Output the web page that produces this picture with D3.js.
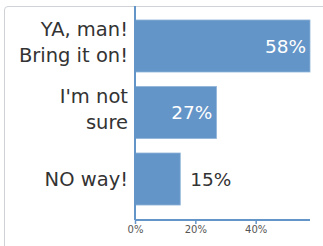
<!DOCTYPE html>
<html>
<head>
<meta charset="utf-8">
<script src="https://d3js.org/d3.v7.min.js"></script>
<style>
  body { margin: 0; background: #fff; }
  .frame { position: absolute; left: 4px; top: 6px; width: 330px; height: 260px;
           border: 1px solid #cfd3d8; border-radius: 4px; }
</style>
</head>
<body>
<div class="frame"></div>
<div id="chart" style="position:absolute;left:0;top:0"></div>
<script>
var w = 323, h = 246;

var categories = [["YA, man!", "Bring it on!"], ["I'm not", "sure"], ["NO way!"]],
    values = [58, 27, 15],
    tickValues = [0, 20, 40],
    barColor = "#6495c8",
    fontFamily = "'DejaVu Sans', sans-serif";

var margin = {top: 14, right: 13, bottom: 26, left: 135},
    width = w - margin.left - margin.right,
    height = h - margin.top - margin.bottom;

var svg = d3.select("#chart").append("svg")
    .attr("width", w)
    .attr("height", h);

var g = svg.append("g")
    .attr("transform", "translate(" + margin.left + "," + margin.top + ")");

var x = d3.scaleLinear().domain([0, 58]).range([0, width]);
var y = d3.scaleBand().domain(d3.range(values.length)).range([0, height - 9])
    .paddingInner(0.218).paddingOuter(0.09);

// bars
g.selectAll(".bar")
  .data(values)
  .enter().append("rect")
    .attr("class", "bar")
    .attr("x", 0)
    .attr("y", function(d, i) { return y(i); })
    .attr("width", function(d) { return x(d); })
    .attr("height", y.bandwidth())
    .attr("fill", barColor)
    .attr("stroke", "#8fb3d9")
    .attr("stroke-width", 0.8);

// value labels: inside the bar when there is room, else just after it
g.selectAll(".val")
  .data(values)
  .enter().append("text")
    .attr("class", "val")
    .attr("x", function(d) { return d > 20 ? x(d) - 4 : x(d) + 10; })
    .attr("y", function(d, i) { return y(i) + y.bandwidth() / 2; })
    .attr("dy", "0.36em")
    .attr("text-anchor", function(d) { return d > 20 ? "end" : "start"; })
    .attr("fill", function(d) { return d > 20 ? "#fff" : "#333"; })
    .style("font-family", fontFamily)
    .style("font-size", "18.5px")
    .text(function(d) { return d + "%"; });

// category labels (one or two lines)
var lab = g.selectAll(".cat")
  .data(categories)
  .enter().append("text")
    .attr("class", "cat")
    .attr("text-anchor", "end")
    .attr("fill", "#333")
    .style("font-family", fontFamily)
    .style("font-size", "19.5px")
    .attr("transform", function(d, i) {
      return "translate(-7," + (y(i) + y.bandwidth() / 2) + ")";
    });

lab.selectAll("tspan")
  .data(function(d) { return d.map(function(t, j) { return {t: t, j: j, n: d.length}; }); })
  .enter().append("tspan")
    .attr("x", 0)
    .attr("y", function(d) { return d.n > 1 ? (d.j - 0.5) * 26 - 4 : 0; })
    .attr("dy", "0.36em")
    .text(function(d) { return d.t; });

// y axis line
g.append("line")
    .attr("x1", 0).attr("x2", 0)
    .attr("y1", -margin.top + 6).attr("y2", height)
    .attr("stroke", barColor)
    .attr("stroke-width", 2);

// x axis
var xAxis = g.append("g")
    .attr("transform", "translate(0," + height + ")")
    .call(d3.axisBottom(x).tickValues(tickValues).tickSize(4)
      .tickFormat(function(d) { return d + "%"; }));

xAxis.select(".domain").attr("stroke", barColor).attr("stroke-width", 2)
    .attr("d", "M0,0H" + width);
xAxis.selectAll(".tick line").attr("stroke", barColor).attr("stroke-width", 1.5).attr("y1", 0);
xAxis.selectAll(".tick text")
    .attr("fill", "#555")
    .attr("y", 6)
    .style("font-family", fontFamily)
    .style("font-size", "10px");
</script>
</body>
</html>
